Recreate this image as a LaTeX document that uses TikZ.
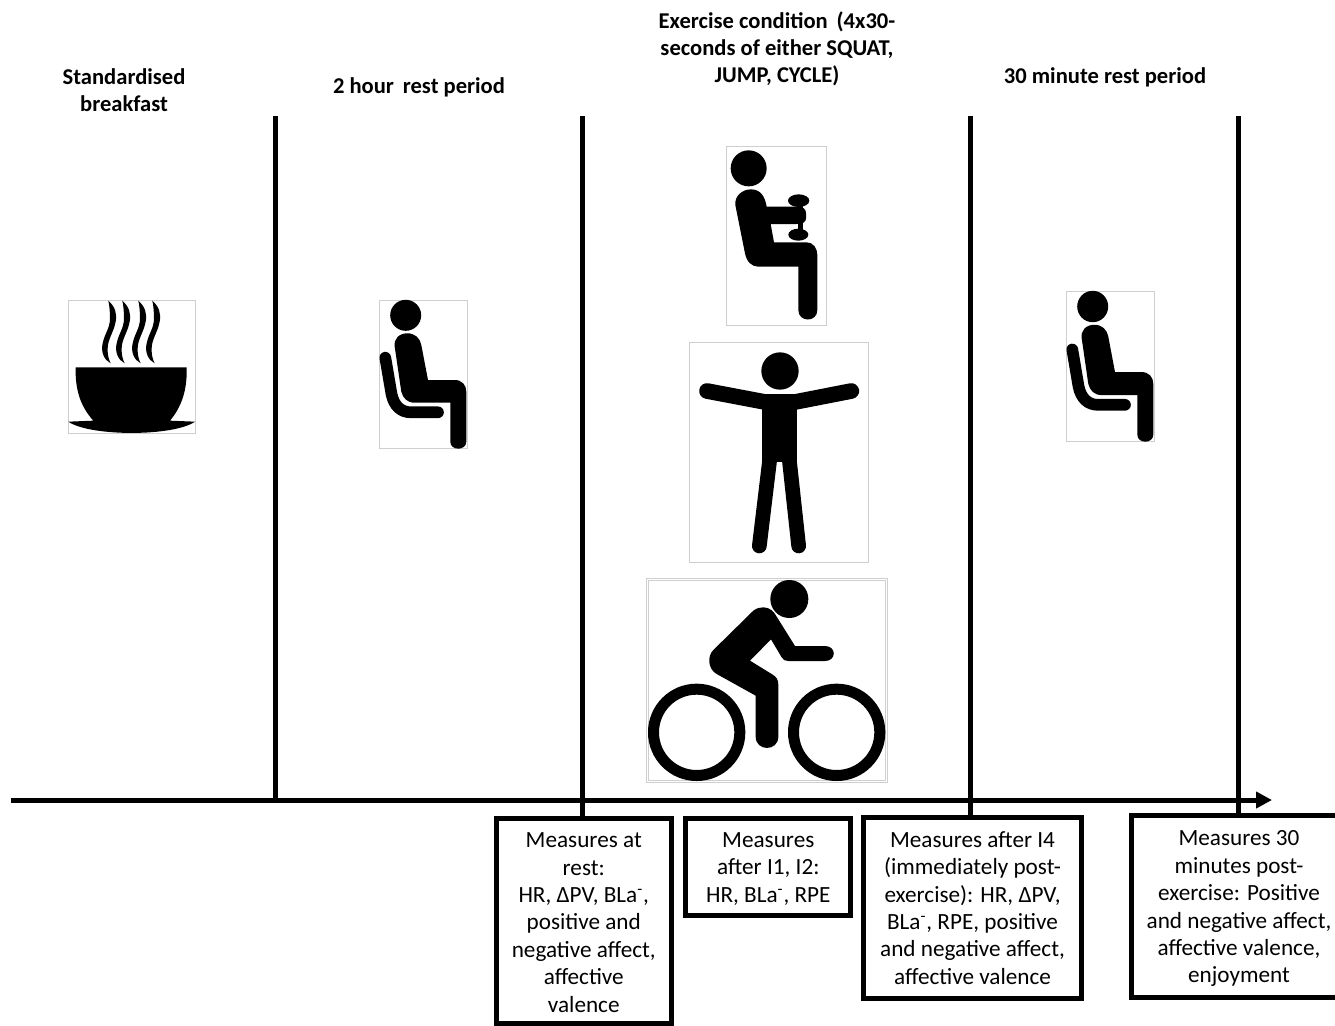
\documentclass[tikz,border=0pt]{standalone}
\usepackage{fontspec}
\setmainfont{Carlito}
\usetikzlibrary{arrows.meta, positioning}
\definecolor{cframe}{HTML}{CFCFCF}
\newcommand{\topgap}[1]{\rule{0pt}{#1pt}}
\tikzset{
  every picture/.style={font=\fontsize{13.2}{15.6}\selectfont, x=0.02cm, y=-0.02cm},
  heading/.style={font=\fontsize{12.85}{15.4}\selectfont\bfseries, align=center, inner sep=0pt},
  measure/.style={draw, line width=2.85pt, align=center, inner sep=0pt, minimum width=#1},
  axisline/.style={-{Triangle[length=3.2mm, width=3.2mm]}, line width=2.85pt},
  period/.style={line width=2.85pt},
  frame/.style={draw=cframe, line width=0.5pt},
  limb/.style={line width=#1*0.19pt, line cap=round},
  pics/seated/.style={code={
    \draw[frame] (0,0) rectangle (88,148);
    \fill (26.7,15.3) circle[radius=15.5];
    \fill (28.3,33.3) .. controls (36,33.3) and (41,38) .. (42.3,45) -- (49,80) -- (75.7,80)
      .. controls (83,80) and (87.3,85) .. (87.3,91.7) -- (87.3,141.7)
      .. controls (87.3,151) and (71.3,151) .. (71.3,141.7) -- (71.3,102.7) -- (35.7,102.7)
      .. controls (28,102.7) and (24,98) .. (22.3,91.7) -- (15.7,46.7)
      .. controls (14.5,39) and (20,33.3) .. (28.3,33.3) -- cycle;
    \draw[limb=35] (6.3,57.7) -- (12.5,94) .. controls (15,106) and (22,112.3) .. (32,112.3) -- (59,112.3);
  }},
}
\begin{document}
\begin{tikzpicture}
  \useasboundingbox (0,0) rectangle (1335,1025);
  % time axis
  \coordinate (start) at (11,800);
  \coordinate (end) at (1272,800);
  \foreach \name/\xpos in {a/275, b/582, c/970, d/1238} \coordinate (top\name) at (\xpos,116);
  \coordinate (foot) at (275,800);
  \draw[axisline] (start) -- (end);
  % measure boxes
  \node[measure=174.5*0.02cm, minimum height=204.5*0.02cm] (rest) at (583.75,920.75) {\topgap{10.5}Measures at\\rest:\\HR, ΔPV, BLa\textsuperscript{-},\\positive and\\negative affect,\\affective\\valence};
  \node[measure=165*0.02cm, minimum height=96.7*0.02cm] (early) at (768.3,866.85) {\topgap{10.5}Measures\\after I1, I2:\\HR, BLa\textsuperscript{-}, RPE};
  \node[measure=218.4*0.02cm, minimum height=181*0.02cm] (post) at (972.5,908) {Measures after I4\\(immediately post-\\exercise): HR, ΔPV,\\BLa\textsuperscript{-}, RPE, positive\\and negative affect,\\affective valence};
  \node[measure=216*0.02cm, minimum height=182*0.02cm] (late) at (1239,906) {\topgap{11.7}Measures 30\\minutes post-\\exercise: Positive\\and negative affect,\\affective valence,\\enjoyment};
  % period lines
  \draw[period] (topa) -- (foot);
  \draw[period] (topb) -- (topb |- rest.north);
  \draw[period] (topc) -- (topc |- post.north);
  \draw[period] (topd) -- (topd |- late.north);
  % headings
  \node[heading] (breakfast) at (124,90) {Standardised\\breakfast};
  \node[heading] (rest2h) at (419,87) {2 hour\, rest period};
  \node[heading] (exercise) at (777,49) {Exercise condition\, (4x30-\\seconds of either SQUAT,\\JUMP, CYCLE)};
  \node[heading] (rest30) at (1105,77.5) {30 minute rest period};
  % cup
  \begin{scope}[shift={(60,290)}, scale=1/3]
    \draw[frame] (24,30) rectangle (405,430);
    \fill (47,232) -- (380,232) .. controls (382,300) and (365,350) .. (330,392) -- (405,395)
      .. controls (340,440) and (90,440) .. (25,395) -- (100,392) .. controls (62,350) and (45,300) .. (47,232) -- cycle;
    \foreach \dx in {0,42,90,132}
      \fill[shift={(\dx,0)}] (145,32) .. controls (165,50) and (172,70) .. (167,95) .. controls (160,130) and (144,145) .. (143,175)
        .. controls (142,195) and (147,210) .. (152,220) .. controls (132,210) and (122,185) .. (128,160)
        .. controls (134,130) and (150,115) .. (150,85) .. controls (150,65) and (148,45) .. (145,32) -- cycle;
  \end{scope}
  % seated
  \pic at (379,300) {seated};
  \pic[yscale=150/148] at (1066,291) {seated};
  % squat
  \begin{scope}[shift={(640,130)}, scale=1/3]
    \draw[frame] (260,50) rectangle (558,585);
    \fill (326,115) circle[radius=54];
    \fill (333,178) .. controls (362,178) and (375,200) .. (380,230) -- (475,230) .. controls (490,230) and (498,238) .. (498,250)
      -- (498,265) .. controls (498,276) and (488,282) .. (470,282) -- (392,282) -- (402,337) -- (500,337)
      .. controls (520,337) and (532,355) .. (532,375) -- (532,540) .. controls (532,578) and (475,578) .. (475,540)
      -- (475,410) -- (355,410) .. controls (335,410) and (320,395) .. (315,370) -- (286,225)
      .. controls (283,200) and (305,178) .. (333,178) -- cycle;
    \fill (476,212) ellipse[x radius=32, y radius=19];
    \fill (475,314) ellipse[x radius=30, y radius=18];
    \fill (475,212) rectangle (490,314);
  \end{scope}
  % star jump
  \begin{scope}[shift={(640,335)}, scale=1/3]
    \draw[frame] (148,22) rectangle (686,683);
    \fill (420,108) circle[radius=56];
    \fill (367,177) rectangle (472,382);
    \draw[limb=47] (201,168) -- (375,201);
    \draw[limb=47] (634,168) -- (465,201);
    \draw[limb=44] (389,375) -- (358,633);
    \draw[limb=44] (448,375) -- (476,633);
  \end{scope}
  % cycle
  \begin{scope}[shift={(640,570)}, scale=1/3]
    \draw[frame] (20,25) rectangle (742,638);
    \draw[frame] (26,31) rectangle (736,632);
    \fill (448,87) circle[radius=57];
    \foreach \xpos in {170,590} \draw[limb=33] (\xpos,487) circle[radius=129.5];
    \fill (370,112) .. controls (390,112) and (402,125) .. (410,140) -- (465,228) -- (555,228)
      .. controls (590,228) and (590,273) .. (555,273) -- (445,273) .. controls (435,273) and (430,270) .. (425,262)
      -- (393,208) -- (330,272) -- (395,312) .. controls (410,320) and (415,330) .. (415,345) -- (415,500)
      .. controls (415,545) and (347,545) .. (347,500) -- (347,377) -- (230,312)
      .. controls (205,298) and (200,260) .. (220,240) -- (340,122) .. controls (350,114) and (360,112) .. (370,112) -- cycle;
  \end{scope}
\end{tikzpicture}
\end{document}
